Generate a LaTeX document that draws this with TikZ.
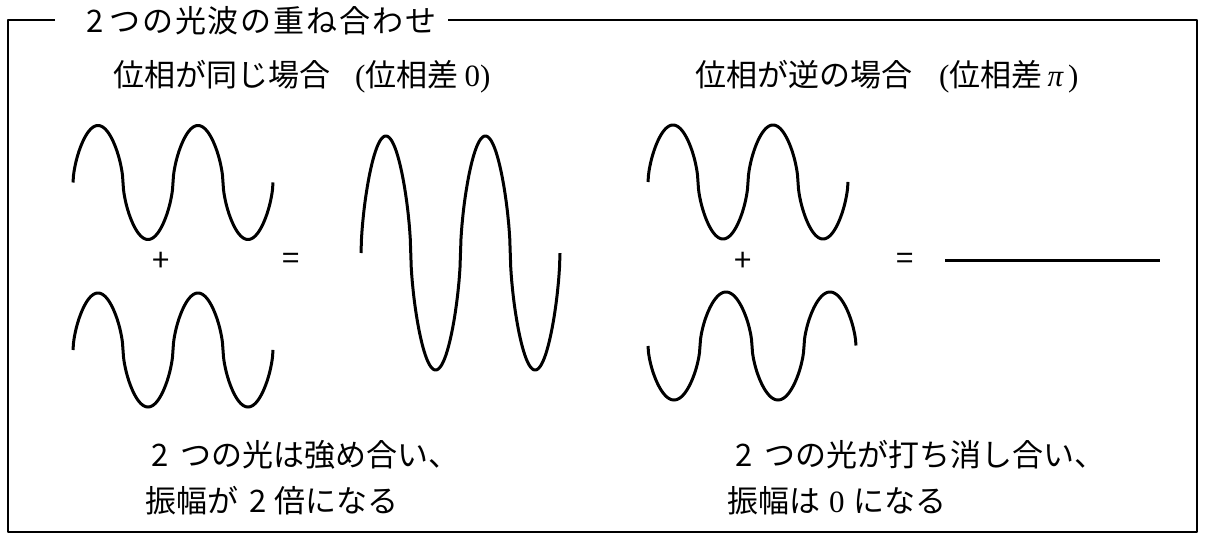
\documentclass[tikz,border=0pt]{standalone}
\usepackage{fontspec}
\setmainfont{Noto Sans CJK JP}
\newfontfamily\jpwide[LetterSpace=6]{Noto Sans CJK JP}
\newfontfamily\ser{Liberation Serif}
\begin{document}
\begin{tikzpicture}[x=1pt,y=-1pt,line join=round,
  declare function={sq(\t)=sin(\t)/pow(abs(sin(\t))+0.00001,0.4);}]
\tikzset{
  frameline/.style={line width=2pt},
  wave/.style={line width=3pt},
  txt/.style={anchor=base west,inner sep=0pt,font=\fontsize{31}{38}\selectfont},
  sym/.style={anchor=center,inner sep=0pt,font=\fontsize{31}{38}\selectfont},
}
\useasboundingbox (0,0) rectangle (1207,551);
% frame
\coordinate (f1) at (55,20.3);
\coordinate (f2) at (8.3,20.3);
\coordinate (f3) at (8.3,532);
\coordinate (f4) at (1197,532);
\coordinate (f5) at (1197,20.3);
\coordinate (f6) at (448,20.3);
\draw[frameline] (f1) -- (f2) -- (f3) -- (f4) -- (f5) -- (f6);
% texts
\node[txt] (title) at (86,33) {\jpwide 2\hspace{6pt}つの光波の重ね合わせ};
\node[txt] (hA) at (113,86) {位相が同じ場合\hspace{25pt}{\ser (}位相差\hspace{6pt}{\ser 0)}};
\node[txt] (hB) at (695,86) {位相が逆の場合\hspace{27pt}{\ser (}位相差\hspace{5pt}{\ser\itshape π}\hspace{5pt}{\ser )}};
\node[txt] (cA1) at (151.5,466) {2\hspace{12pt}つの光は強め合い、};
\node[txt] (cA2) at (145,512) {振幅が\hspace{11pt}2\hspace{8pt}倍になる};
\node[txt] (cB1) at (735.5,466) {2\hspace{12pt}つの光が打ち消し合い、};
\node[txt] (cB2) at (727,512) {振幅は\hspace{9pt}{\ser 0}\hspace{9pt}になる};
% symbols
\node[sym] (plusA) at (161,262) {+};
\node[sym] (eqA) at (291,261) {=};
\node[sym] (plusB) at (743,262) {+};
\node[sym] (eqB) at (905,261) {=};
% waves
\draw[wave] plot[domain=0:200,samples=401] ({73+\x},{182.5-57*sq(3.6*\x)});
\draw[wave] plot[domain=0:200,samples=401] ({73+\x},{350-57*sq(3.6*\x)});
\draw[wave] plot[domain=0:199,samples=401] ({361+\x},{253-117*sq(3.6181*\x)});
\draw[wave] plot[domain=0:200,samples=401] ({648+\x},{182-57*sq(3.6*\x)});
\draw[wave] plot[domain=0:208,samples=401] ({648+\x},{346+54*sq(3.4615*\x)});
% flat result
\coordinate (zA) at (945,260);
\coordinate (zB) at (1160,260);
\draw[wave] (zA) -- (zB);
\end{tikzpicture}
\end{document}
